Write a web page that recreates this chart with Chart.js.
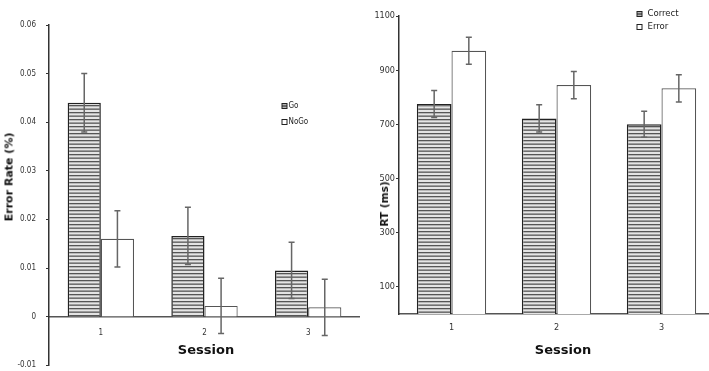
<!DOCTYPE html>
<html>
<head>
<meta charset="utf-8">
<script src="https://cdn.jsdelivr.net/npm/chart.js@4"></script>
<style>
    html, body { margin: 0; padding: 0; background: #fff; }
    #wrap { position: relative; width: 709px; height: 371px; overflow: hidden; font-family: "DejaVu Sans", Verdana, sans-serif; }
    .pane { position: absolute; top: 0; }
    .ttl { position: absolute; font-weight: bold; color: #111; white-space: nowrap; transform: translate(-50%, -50%); }
    .rot { transform: translate(-50%, -50%) rotate(-90deg); }
</style>
</head>
<body>
<div id="wrap">
    <div class="pane" style="left:0;"><canvas id="left" width="360" height="380"></canvas></div>
    <div class="pane" style="left:360px;"><canvas id="right" width="354" height="371"></canvas></div>
    <div class="ttl rot" style="left:9px; top:177px; font-size:11px;">Error Rate (%)</div>
    <div class="ttl" style="left:206px; top:349px; font-size:13px;">Session</div>
    <div class="ttl rot" style="left:384px; top:204px; font-size:10.5px;">RT (ms)</div>
    <div class="ttl" style="left:563px; top:349px; font-size:13px;">Session</div>
</div>
<script>
const sessions = ['1', '2', '3'];

// left panel: error rate
const goRate = [0.044, 0.0166, 0.0095];
const goErr = [0.006, 0.0059, 0.0058];
const nogoRate = [0.016, 0.0022, 0.0019];
const nogoErr = [0.0058, 0.0057, 0.0058];

// right panel: reaction time
const correctRT = [775, 722, 700];
const correctErr = [50, 50, 48];
const errorRT = [972, 845, 833];
const errorErr = [50, 50, 50];
const rtTicks = [100, 300, 500, 700, 900, 1100];

const FONT = '"DejaVu Sans Condensed", "DejaVu Sans", Verdana, sans-serif';

// horizontal hatch fill
function stripes() {
    const c = document.createElement('canvas');
    c.width = 4; c.height = 7;
    const g = c.getContext('2d');
    g.fillStyle = '#e4e4e4';
    g.fillRect(0, 0, 4, 7);
    g.fillStyle = '#555';
    g.fillRect(0, 0, 4, 1.3);
    g.fillRect(0, 3.5, 4, 1.3);
    return g.createPattern(c, 'repeat');
}

const errorBars = {
    id: 'errorBars',
    afterDatasetsDraw(chart) {
        const { ctx, scales: { y } } = chart;
        chart.data.datasets.forEach((ds, i) => {
            const meta = chart.getDatasetMeta(i);
            meta.data.forEach((bar, j) => {
                const v = ds.data[j], e = ds.err[j];
                const top = y.getPixelForValue(v + e);
                const bot = y.getPixelForValue(v - e);
                ctx.save();
                ctx.strokeStyle = '#666';
                ctx.lineWidth = 1.5;
                ctx.beginPath();
                ctx.moveTo(bar.x, top); ctx.lineTo(bar.x, bot);
                ctx.moveTo(bar.x - 3, top); ctx.lineTo(bar.x + 3, top);
                ctx.moveTo(bar.x - 3, bot); ctx.lineTo(bar.x + 3, bot);
                ctx.stroke();
                ctx.restore();
            });
        });
    }
};

const legendAt = {
    id: 'legendAt',
    afterDraw(chart, args, o) {
        const { ctx } = chart;
        chart.data.datasets.forEach((ds, i) => {
            const y = o.y + i * o.gap;
            const s = o.size;
            ctx.save();
            ctx.fillStyle = '#fff';
            ctx.fillRect(o.x, y - s / 2, s, s);
            ctx.strokeStyle = '#222';
            ctx.lineWidth = 1;
            ctx.strokeRect(o.x, y - s / 2, s, s);
            if (ds.hatch) {
                ctx.beginPath();
                ctx.moveTo(o.x, y - s / 6); ctx.lineTo(o.x + s, y - s / 6);
                ctx.moveTo(o.x, y + s / 6); ctx.lineTo(o.x + s, y + s / 6);
                ctx.stroke();
            }
            ctx.fillStyle = '#222';
            ctx.font = o.fontSize + 'px ' + FONT;
            ctx.textBaseline = 'middle';
            ctx.fillText(ds.label, o.x + s + o.pad, y);
            ctx.restore();
        });
    }
};

const hatch = stripes();

new Chart(document.getElementById('left'), {
    type: 'bar',
    data: {
        labels: sessions,
        datasets: [
            { label: 'Go', data: goRate, err: goErr, hatch: true, backgroundColor: hatch, borderColor: '#222', borderWidth: 1.5 },
            { label: 'NoGo', data: nogoRate, err: nogoErr, backgroundColor: '#fff', borderColor: '#555', borderWidth: 1.2 }
        ]
    },
    options: {
        responsive: false,
        animation: false,
        layout: { padding: { top: 25, right: 0, bottom: 0, left: 0 } },
        datasets: { bar: { barPercentage: 1, categoryPercentage: 0.64 } },
        plugins: {
            legend: { display: false },
            tooltip: { enabled: false },
            legendAt: { x: 282, y: 106, gap: 16, size: 5, pad: 1.5, fontSize: 8 }
        },
        scales: {
            x: {
                position: { y: 0 },
                afterFit(s) { s.height = 0; },
                grid: { display: false, drawTicks: false },
                border: { color: '#555', width: 1.5 },
                ticks: { color: '#333', font: { family: FONT, size: 8 }, padding: 12 }
            },
            y: {
                min: -0.01, max: 0.06,
                afterFit(s) { s.width = 49; },
                grid: { drawOnChartArea: false, drawTicks: true, tickLength: 3, color: '#333' },
                border: { color: '#333', width: 1.5 },
                ticks: { stepSize: 0.01, color: '#333', font: { family: FONT, size: 8 }, padding: 10,
                         callback: v => String(+v.toFixed(2)) }
            }
        }
    },
    plugins: [errorBars, legendAt]
});

new Chart(document.getElementById('right'), {
    type: 'bar',
    data: {
        labels: sessions,
        datasets: [
            { label: 'Correct', data: correctRT, err: correctErr, hatch: true, backgroundColor: hatch, borderColor: '#222', borderWidth: 1.5 },
            { label: 'Error', data: errorRT, err: errorErr, backgroundColor: '#fff', borderColor: '#555', borderWidth: 1.2 }
        ]
    },
    options: {
        responsive: false,
        animation: false,
        layout: { padding: { top: 16, right: 0, bottom: 0, left: 0 } },
        datasets: { bar: { barPercentage: 1, categoryPercentage: 0.66 } },
        plugins: {
            legend: { display: false },
            tooltip: { enabled: false },
            legendAt: { x: 277, y: 14, gap: 13, size: 5, pad: 5.5, fontSize: 9.5 }
        },
        scales: {
            x: {
                afterFit(s) { s.height = 57; },
                grid: { display: false, drawTicks: false },
                border: { color: '#555', width: 1.5 },
                ticks: { color: '#333', font: { family: FONT, size: 9 }, padding: 8 }
            },
            y: {
                min: 0, max: 1100,
                afterFit(s) { s.width = 39; },
                afterBuildTicks(s) { s.ticks = rtTicks.map(v => ({ value: v })); },
                grid: { drawOnChartArea: false, drawTicks: true, tickLength: 3, color: '#333' },
                border: { color: '#333', width: 1.5 },
                ticks: { color: '#333', font: { family: FONT, size: 9 }, padding: 1, callback: v => String(v) }
            }
        }
    },
    plugins: [errorBars, legendAt]
});
</script>
</body>
</html>
